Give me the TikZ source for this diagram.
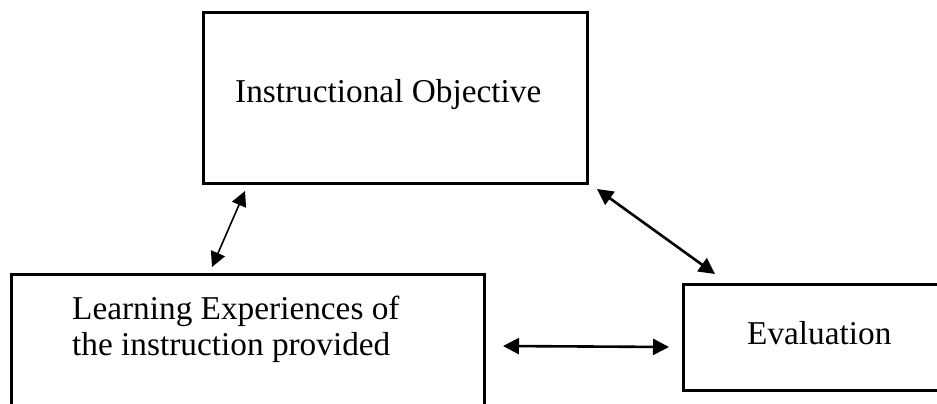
\documentclass[tikz,border=0pt]{standalone}
\usepackage{fontspec}
\setmainfont{Liberation Serif}
\usetikzlibrary{arrows.meta}
\begin{document}
\begin{tikzpicture}[x=1pt,y=-1pt,
  box/.style={draw=black,line width=2.6pt,fill=none},
  lbl/.style={inner sep=0pt,font=\fontsize{33.3}{35.5}\selectfont,align=left,anchor=base west},
  dbl/.style={{Triangle[length=16pt,width=16pt]}-{Triangle[length=16pt,width=16pt]},line width=2.6pt},
  thin/.style={{Triangle[length=15pt,width=15pt]}-{Triangle[length=15pt,width=15pt]},line width=1.6pt}]
\useasboundingbox (0,0) rectangle (937,404);
\clip (0,0) rectangle (937,404);
\fill[white] (0,0) rectangle (937,404);
\node[box,minimum width=384pt,minimum height=171pt,anchor=north west] (obj) at (202,11) {};
\node[box,minimum width=473pt,minimum height=160pt,anchor=north west] (learn) at (10,273) {};
\node[box,minimum width=270pt,minimum height=106pt,anchor=north west] (eval) at (682,283) {};
\node[lbl] (objt) at (235,102) {Instructional Objective};
\node[lbl] (learnt) at (72,355) {Learning Experiences of\\the instruction provided};
\node[lbl] (evalt) at (747,344) {Evaluation};
\coordinate (a1s) at (245,191);
\coordinate (a1e) at (212,267);
\coordinate (a2s) at (597,189);
\coordinate (a2e) at (715,274);
\coordinate (a3s) at (503,346);
\coordinate (a3e) at (669,347);
\draw[thin] (a1s) -- (a1e);
\draw[dbl] (a2s) -- (a2e);
\draw[dbl] (a3s) -- (a3e);
\end{tikzpicture}
\end{document}
